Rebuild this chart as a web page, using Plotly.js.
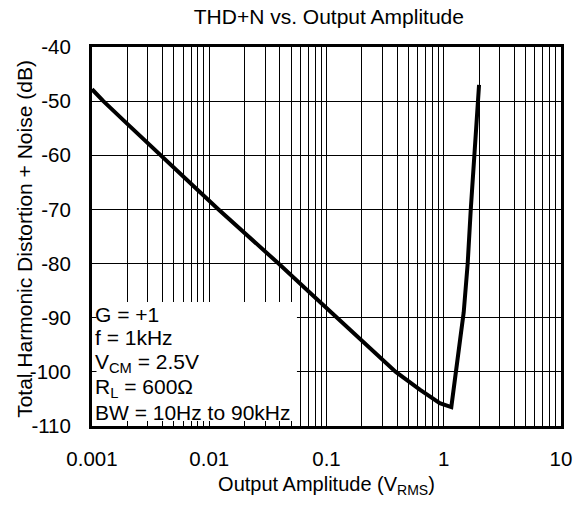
<!DOCTYPE html>
<html>
<head>
<meta charset="utf-8">
<script src="https://cdn.plot.ly/plotly-3.0.1.min.js"></script>
<style>html,body{margin:0;padding:0;background:#fff;}#chart{width:576px;height:510px;}</style>
</head>
<body>
<div id="chart"></div>
<script>
// Output amplitude (V RMS) and THD+N (dB)
const amplitude = [0.001, 0.00125, 0.002, 0.0038, 0.0071, 0.012, 0.02, 0.039, 0.07, 0.122, 0.2, 0.39, 0.625, 0.925, 1.16, 1.25, 1.38, 1.48, 1.6, 1.7, 1.82, 1.93, 2.0];
const thdn      = [-47.8, -50, -54.2, -60, -65.4, -70, -74.3, -80, -85.1, -90, -94.3, -100, -103.3, -105.8, -106.5, -100.5, -94, -89, -80, -70, -60, -51, -47];

const xTickVals = [0.001, 0.01, 0.1, 1, 10];
const xTickText = ['0.001', '0.01', '0.1', '1', '10'];
const yTickVals = [-110, -100, -90, -80, -70, -60, -50, -40];
const yTickText = ['-110', '-100', '-90', '-80', '-70', '-60', '-50', '-40'];
const minorMultipliers = [2, 3, 4, 5, 6, 7, 8, 9];
const decades = [0.001, 0.01, 0.1, 1];
const xMinorVals = [];
decades.forEach(d => minorMultipliers.forEach(m => xMinorVals.push(+(d * m).toPrecision(3))));

const chartTitle = 'THD+N vs. Output Amplitude';
const xTitle = 'Output Amplitude (V<sub>RMS</sub>)';
const yTitle = 'Total Harmonic Distortion + Noise (dB)';
const conditions = ['G = +1', 'f = 1kHz', 'V<sub>CM</sub> = 2.5V', 'R<sub>L</sub> = 600Ω', 'BW = 10Hz to 90kHz'];
const conditionY = [0.2929, 0.2322, 0.1662, 0.1003, 0.0369];

const FONT = 'Liberation Sans, Arial, sans-serif';

const trace = {
  x: amplitude, y: thdn, type: 'scatter', mode: 'lines',
  line: {color: 'black', width: 4, shape: 'linear'},
  hoverinfo: 'x+y'
};

const annotations = conditions.map((t, i) => ({
  xref: 'paper', yref: 'paper', x: 0.003, y: conditionY[i], xanchor: 'left', yanchor: 'middle',
  align: 'left', showarrow: false, text: t,
  font: {family: FONT, size: 21, color: 'black'}
}));
annotations.push({
  xref: 'paper', yref: 'paper', x: -0.1457, y: 0.493, xanchor: 'center', yanchor: 'middle',
  textangle: -90, showarrow: false, text: yTitle,
  font: {family: FONT, size: 21, color: 'black'}
});

const layout = {
  width: 576, height: 510,
  margin: {l: 91.5, r: 14.5, t: 47, b: 84},
  paper_bgcolor: 'white', plot_bgcolor: 'white',
  font: {family: FONT, size: 20, color: 'black'},
  showlegend: false,
  title: {text: chartTitle, font: {family: FONT, size: 21, color: 'black'},
          x: 0.505, xref: 'paper', xanchor: 'center', y: 0.967, yref: 'container', yanchor: 'middle'},
  xaxis: {
    type: 'log', range: [-3, 1],
    tickmode: 'array', tickvals: xTickVals, ticktext: xTickText,
    ticks: 'inside', ticklen: 6, tickcolor: 'black', tickwidth: 1,
    ticklabelstandoff: 12,
    showgrid: true, gridcolor: 'black', gridwidth: 1,
    minor: {tickmode: 'array', tickvals: xMinorVals, ticks: 'inside', ticklen: 5, tickcolor: 'black',
            showgrid: true, gridcolor: 'black', gridwidth: 1},
    showline: true, linecolor: 'black', linewidth: 3, mirror: true,
    zeroline: false,
    tickfont: {family: FONT, size: 20.5, color: 'black'},
    title: {text: xTitle, font: {family: FONT, size: 20, color: 'black'}, standoff: 9}
  },
  yaxis: {
    range: [-110, -40],
    tickmode: 'array', tickvals: yTickVals, ticktext: yTickText,
    ticks: 'inside', ticklen: 6, tickcolor: 'black', tickwidth: 1,
    ticklabelstandoff: 14,
    showgrid: true, gridcolor: 'black', gridwidth: 1,
    showline: true, linecolor: 'black', linewidth: 3, mirror: true,
    zeroline: false,
    tickfont: {family: FONT, size: 20.5, color: 'black'}
  },
  shapes: [{
    type: 'rect', xref: 'paper', yref: 'paper', x0: 0.0096, x1: 0.437, y0: 0.0132, y1: 0.327,
    fillcolor: 'white', line: {width: 0}, layer: 'above'
  }],
  annotations: annotations
};

Plotly.newPlot('chart', [trace], layout, {displayModeBar: false, staticPlot: true});
</script>
</body>
</html>
